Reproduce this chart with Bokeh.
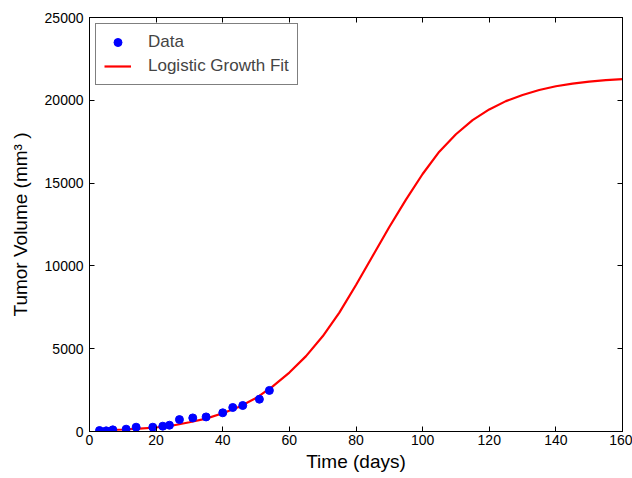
from bokeh.plotting import figure
from bokeh.models import (ColumnDataSource, Range1d, FixedTicker, LinearAxis, Legend,
                          LegendItem, CustomJSTickFormatter)
from bokeh.embed import file_html
from bokeh.resources import INLINE

# Observed data
days = [3, 5, 7, 11, 14, 19, 22, 24, 27, 31, 35, 40, 43, 46, 51, 54]
volume = [60, 40, 100, 140, 260, 260, 320, 380, 720, 820, 880, 1130, 1450, 1570, 1950, 2480]

# Logistic fit curve
fit_t = [3, 10, 15, 20, 25, 30, 35, 40, 45, 50, 55, 60, 65, 70, 75, 80, 85, 90,
         95, 100, 105, 110, 115, 120, 125, 130, 135, 140, 145, 150, 155, 160]
fit_v = [60, 120, 170, 240, 360, 560, 780, 1100, 1500, 2020, 2730, 3560, 4550, 5750,
         7180, 8850, 10600, 12350, 14000, 15550, 16900, 17950, 18800, 19450, 19950,
         20320, 20620, 20850, 21010, 21130, 21220, 21280]

x_ticks = [0, 20, 40, 60, 80, 100, 120, 140, 160]
y_ticks = [0, 5000, 10000, 15000, 20000, 25000]

FONT = "Liberation Sans"

p = figure(width=632, height=478, output_backend="svg", toolbar_location=None,
           x_range=Range1d(0, 160), y_range=Range1d(0, 25000),
           min_border_left=89, min_border_right=10, min_border_top=17, min_border_bottom=47)
p.background_fill_color = "white"
p.border_fill_color = "white"
p.outline_line_color = "black"
p.outline_line_width = 1
p.grid.visible = False

for ax in (p.xaxis[0], p.yaxis[0]):
    ax.major_tick_in = 5
    ax.major_tick_out = 0
    ax.minor_tick_line_color = None
    ax.axis_line_color = "black"
    ax.major_tick_line_color = "black"
    ax.major_label_text_font = FONT
    ax.major_label_text_font_size = "14px"
    ax.major_label_text_color = "black"
    ax.axis_label_text_font = FONT
    ax.axis_label_text_font_size = "19px"
    ax.axis_label_text_font_style = "normal"
    ax.axis_label_text_color = "black"

p.xaxis.ticker = FixedTicker(ticks=x_ticks)
p.yaxis.ticker = FixedTicker(ticks=y_ticks)
p.xaxis.axis_label = "Time (days)"
p.yaxis.axis_label = "Tumor Volume (mm³ )"
p.xaxis.major_label_standoff = 3
p.yaxis.major_label_standoff = 6
p.xaxis.axis_label_standoff = 3
p.yaxis.axis_label_standoff = 11

blank = CustomJSTickFormatter(code="return '';")
top = LinearAxis(ticker=FixedTicker(ticks=x_ticks), major_tick_in=5, major_tick_out=0,
                 minor_tick_line_color=None, formatter=blank,
                 major_label_standoff=0, axis_line_color="black")
right = LinearAxis(ticker=FixedTicker(ticks=y_ticks), major_tick_in=5, major_tick_out=0,
                   minor_tick_line_color=None, formatter=blank,
                   major_label_standoff=0, axis_line_color="black")
p.add_layout(top, "above")
p.add_layout(right, "right")

data_src = ColumnDataSource(dict(x=days, y=volume))
fit_src = ColumnDataSource(dict(x=fit_t, y=fit_v))

r_line = p.line("x", "y", source=fit_src, line_color="red", line_width=2.2)
r_pts = p.scatter("x", "y", source=data_src, size=8, fill_color="blue", line_color="blue")

legend = Legend(items=[LegendItem(label="Data", renderers=[r_pts]),
                       LegendItem(label="Logistic Growth Fit", renderers=[r_line])],
                location="top_left")
legend.label_text_font = FONT
legend.label_text_font_size = "17px"
legend.label_height = 20
legend.border_line_color = "black"
legend.border_line_width = 1
legend.margin = 6
legend.padding = 8
legend.spacing = 4
legend.glyph_width = 27
legend.label_standoff = 17
p.add_layout(legend)

open("out.html", "w").write(file_html(p, INLINE))
